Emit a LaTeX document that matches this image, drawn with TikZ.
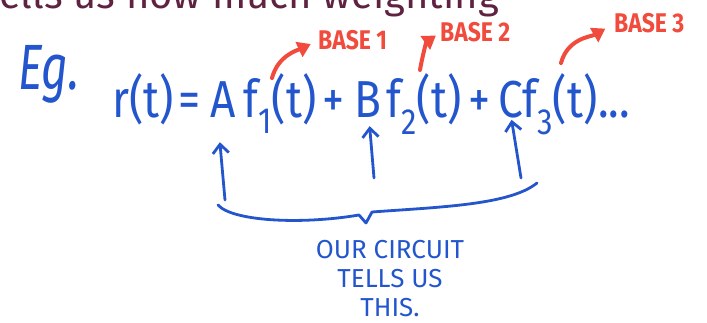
\documentclass[tikz,border=0pt]{standalone}
\usepackage{fontspec}
\usepackage{graphicx}
\setmainfont{Fira Sans}
\usetikzlibrary{arrows.meta}
\definecolor{inkblue}{RGB}{35,85,205}
\definecolor{inkred}{RGB}{240,75,60}
\definecolor{inkplum}{RGB}{95,35,65}
\newcommand{\hw}[1]{\scalebox{0.85}[1]{#1}}
\begin{document}
\begin{tikzpicture}[x=1pt,y=1pt,
  eq/.style={inner sep=0,anchor=base west,text=inkblue,font=\fontsize{52}{52}\selectfont},
  baselabel/.style={inner sep=0,anchor=base west,text=inkred,font=\fontsize{27}{27}\selectfont\bfseries},
  redarrow/.style={draw=inkred,line width=4pt,line cap=round,-{Triangle[length=13pt,width=16pt]}},
  bluearrow/.style={draw=inkblue,line width=2.8pt,line cap=round,-{Straight Barb[length=9pt,width=16pt]}},
  brace/.style={draw=inkblue,line width=2.8pt,line cap=round,line join=round},
  note/.style={inner sep=0,text=inkblue,font=\fontsize{26}{29}\selectfont,align=center}]
\useasboundingbox (0,0) rectangle (707,323);
\clip (0,0) rectangle (707,323);
\node[inner sep=0,anchor=base west,text=inkplum,font=\fontsize{40}{40}\selectfont] (top) at (-15,314) {tells us how much weighting};
\node[eq,font=\fontsize{64}{64}\selectfont\itshape] (eg) at (18,233) {\scalebox{0.72}[1]{Eg.}};
% equation
\node[eq] (r) at (112,205) {\hw{r(t)}};
\node[eq] (eq) at (178,205) {\hw{=}};
\node[eq] (A) at (210,205) {\hw{A}};
\node[eq] (f1) at (243,205) {\hw{f\textsubscript{1}(t)}};
\node[eq] (p1) at (322,205) {\hw{+}};
\node[eq] (B) at (354,205) {\hw{B}};
\node[eq] (f2) at (386,205) {\hw{f\textsubscript{2}(t)}};
\node[eq] (p2) at (468,205) {\hw{+}};
\node[eq] (C) at (498,205) {\hw{C}};
\node[eq] (f3) at (522,205) {\hw{f\textsubscript{3}(t)}};
\node[eq] (dots) at (598,205) {\hw{...}};
% base labels
\node[baselabel] (base1) at (318,273) {\hw{BASE 1}};
\node[baselabel] (base2) at (440,281) {\hw{BASE 2}};
\node[baselabel] (base3) at (614,290) {\hw{BASE 3}};
\coordinate (s1) at (272,245);
\coordinate (s2) at (420,253);
\coordinate (s3) at (561,260);
\draw[redarrow,shorten >=8pt] (s1) to[out=75,in=205] (base1.west);
\draw[redarrow,shorten >=5pt] (s2) to[out=80,in=215] (base2.west);
\draw[redarrow,shorten >=10pt] (s3) to[out=75,in=210] (base3.west);
% blue arrows
\coordinate (a0) at (225,123);
\coordinate (b0) at (374,145);
\coordinate (c0) at (521,145);
\draw[bluearrow] (a0) -- ([xshift=-3pt,yshift=-24pt]A.south);
\draw[bluearrow] (b0) -- ([xshift=2pt,yshift=-8pt]B.south);
\draw[bluearrow] (c0) -- ([xshift=1pt,yshift=-1pt]C.south);
% brace
\draw[brace] (218,118) .. controls (232,102) and (300,98) .. (359,108) -- (366,100) -- (372,111) .. controls (440,116) and (510,118) .. (537,140);
\node[note] (note) at (390,44) {OUR CIRCUIT\\TELLS US\\THIS.};
\end{tikzpicture}
\end{document}
